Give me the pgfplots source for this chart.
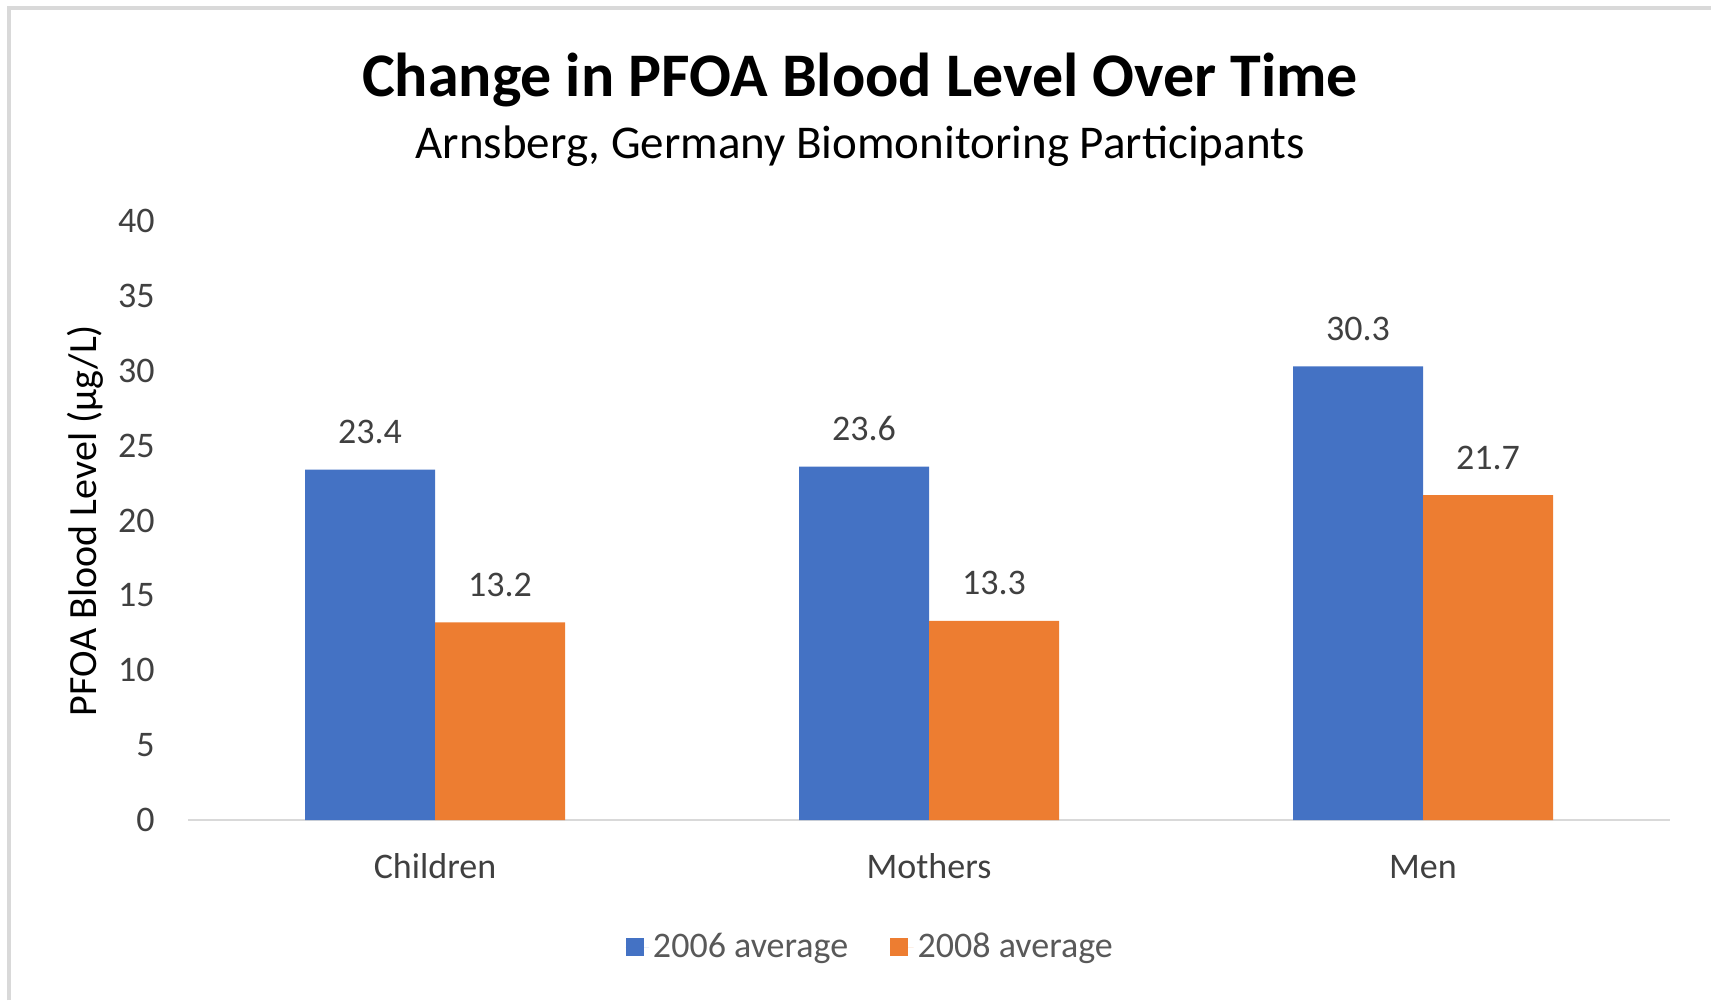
\documentclass[border=0pt]{standalone}
\usepackage{pgfplots}
\pgfplotsset{compat=1.18}
\usepackage{fontspec}
\setmainfont{Carlito}
\definecolor{cblue}{HTML}{4472C4}
\definecolor{corange}{HTML}{ED7D31}
\definecolor{txt}{HTML}{404040}
\definecolor{legtxt}{HTML}{595959}
\definecolor{axgray}{HTML}{D9D9D9}
\definecolor{frame}{HTML}{D9D9D9}
\begin{document}
\begin{tikzpicture}
\useasboundingbox (0,0) rectangle (855.5pt,-500pt);
\draw[frame, line width=2pt] (4.5pt,-500pt) -- (4.5pt,-4pt) -- (855.5pt,-4pt);
\node[anchor=base, font=\fontsize{31}{36}\selectfont\bfseries, text=black] at (430pt,-48.3pt) {Change in PFOA Blood Level Over Time};
\node[anchor=base, font=\fontsize{23.5}{28}\selectfont, text=black] at (430pt,-79.2pt) {Arnsberg, Germany Biomonitoring Participants};
\begin{axis}[
  at={(94pt,-410pt)}, anchor=south west,
  scale only axis, width=741pt, height=299.5pt,
  ybar, bar width=65pt,
  xmin=-0.5, xmax=2.5, ymin=0, ymax=40,
  xtick={0,1,2}, xticklabels={Children,Mothers,Men},
  ytick={0,5,...,40},
  separate axis lines,
  axis x line*=bottom, axis y line*=left,
  x axis line style={draw=axgray, line width=1.2pt, -},
  y axis line style={draw=none},
  major tick length=0pt,
  /pgf/number format/assume math mode=true,
  tick label style={font=\fontsize{18}{22}\selectfont, text=txt},
  yticklabel style={anchor=east, inner sep=0pt, xshift=-16.5pt},
  xticklabel style={anchor=base, inner sep=0pt, yshift=-29pt},
  every axis y label/.style={at={(axis description cs:-0.0695,0.5)}, rotate=90, anchor=center, font=\fontsize{20}{24}\selectfont, text=black},
  ylabel={PFOA Blood Level (µg/L)},
  nodes near coords,
  every node near coord/.append style={anchor=base, inner sep=0pt, yshift=13pt, font=\fontsize{18}{22}\selectfont, text=txt, /pgf/number format/fixed, /pgf/number format/precision=1, /pgf/number format/fixed zerofill},
  legend style={at={(axis description cs:0.461,-0.212)}, anchor=center, draw=none, fill=none, font=\fontsize{18}{22}\selectfont, text=legtxt,
    /tikz/every even column/.append style={column sep=19pt}},
  legend columns=2,
  legend image code/.code={\fill[#1] (0pt,-4.5pt) rectangle (9pt,4.5pt); \path (0pt,0pt) -- (11.7pt,0pt);},
]
\addplot[fill=cblue, draw=none, bar shift=-32.5pt] coordinates {(0,23.4) (1,23.6) (2,30.3)};
\addplot[fill=corange, draw=none, bar shift=32.5pt] coordinates {(0,13.2) (1,13.3) (2,21.7)};
\legend{2006 average, 2008 average}
\end{axis}
\end{tikzpicture}
\end{document}
